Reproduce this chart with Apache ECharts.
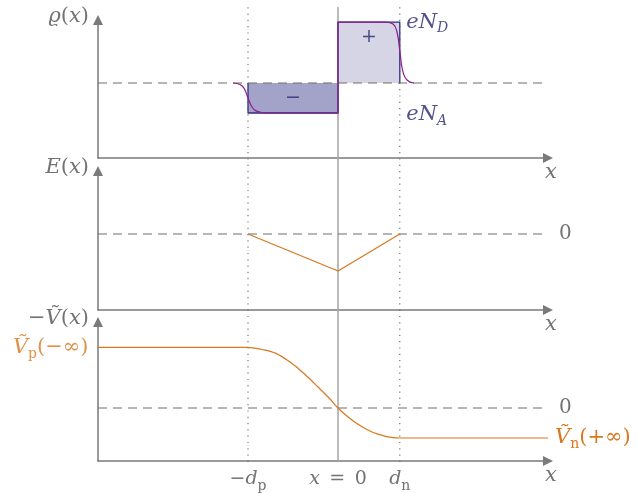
<!DOCTYPE html>
<html><head><meta charset="utf-8">
<script src="https://cdn.jsdelivr.net/npm/echarts@6/dist/echarts.min.js"></script>
<style>html,body{margin:0;padding:0;background:#fff}#c{width:638px;height:493px}</style>
</head><body><div id="c"></div>
<script>
// ---------- data ----------
const xMin = -4, xMax = 3.5;
const dp = 1.5;     // -d_p position
const dn = 1.03;    // d_n position
const NA = 1.0;     // eN_A level (negative block depth)
const ND = 2.03;    // eN_D level (positive block height)
const rhoNeg = [[-dp, 0], [-dp, -NA], [0, -NA], [0, 0]];
const rhoPos = [[0, 0], [0, ND], [dn, ND], [dn, 0]];
const rhoRealLeft = [[-1.75, 0], [-1.633, -0.05], [-1.567, -0.17], [-1.5, -0.5], [-1.433, -0.8], [-1.367, -0.93], [-1.25, -0.99], [-1.133, -1]];
const rhoRealMid = [[-1.133, -1], [0, -1], [0, 2.03], [0.8, 2.03]];
const rhoRealRight = [[0.8, 2.03], [0.917, 1.97], [0.983, 1.7], [1.033, 1.02], [1.083, 0.37], [1.15, 0.1], [1.267, 0]];
const efield = [[-dp, 0], [0, -1.0], [dn, 0]];
const Vp = 2.02, Vn = -1.0;
const potentialCurve = [[-1.5, 2.02], [-1.267, 1.95], [-1.033, 1.82], [-0.8, 1.53], [-0.567, 1.15], [-0.333, 0.70], [-0.133, 0.30], [0, 0],
  [0.133, -0.243], [0.255, -0.433], [0.4, -0.623], [0.533, -0.767], [0.667, -0.873], [0.81, -0.953], [0.917, -0.987], [1.03, -1.0]];
const tickValues = [-dp, 0, dn];
const tickLabels = ['{n|\u2212}{i|d}{s|p}', '{i|x}{n|\u2002=\u20020}', '{i|d}{s|n}'];
const rhoLabel = '{i|\u03F1}{n|(}{i|x}{n|)}';
const eLabel = '{i|E}{n|(}{i|x}{n|)}';
const vLabel = '{n|\u2212}{i|\u1E7C}{n|(}{i|x}{n|)}';
const vpLabel = '{i|\u1E7C}{s|p}{n|(\u2212\u221E)}';
const vnLabel = '{i|\u1E7C}{s|n}{n|(+\u221E)}';
const ndLabel = '{i|eN}{si|D}';
const naLabel = '{i|eN}{si|A}';

// ---------- styles ----------
const F = '"DejaVu Serif", "Liberation Serif", serif';
const GRAY = '#737373', AXIS = '#7a7a7a', ORANGE = '#d9771a', PURPLE = '#8c1f8c', NAVY = '#2e2e7e', NAVYTXT = '#27276f';
function rich(color, big) {
  const fs = big || 19;
  return {
    i: {fontFamily: F, fontStyle: 'italic', fontSize: fs, color, lineHeight: 26, verticalAlign: 'middle'},
    n: {fontFamily: F, fontSize: fs, color, lineHeight: 26, verticalAlign: 'middle'},
    s: {fontFamily: F, fontSize: 14, color, lineHeight: 27, verticalAlign: 'bottom'},
    si: {fontFamily: F, fontStyle: 'italic', fontSize: 14, color, lineHeight: 27, verticalAlign: 'bottom'}
  };
}
const grids = [
  {left: 98, top: 20, width: 450, height: 138},
  {left: 98, top: 171, width: 450, height: 139},
  {left: 98, top: 322, width: 450, height: 139},
  {left: 98, top: 7, width: 450, height: 455}
];
const yRanges = [[-2.5, 2.1], [-2.054, 1.703], [-1.767, 2.867], [0, 1]];
const yNames = [rhoLabel, eLabel, vLabel];
const axisLine = {show: true, onZero: false, symbol: ['none', 'triangle'], symbolSize: [10, 10], lineStyle: {color: AXIS, width: 1.5}};

const xAxis = grids.map((g, k) => ({
  type: 'value', gridIndex: k, min: xMin, max: xMax, show: k < 3,
  axisLine, axisTick: {show: false}, splitLine: {show: false},
  axisLabel: k === 2 ? {
    show: true, customValues: tickValues, margin: 5, rich: rich(GRAY),
    formatter: (v) => { let b = 0; tickValues.forEach((t, j) => { if (Math.abs(t - v) < Math.abs(tickValues[b] - v)) b = j; }); return tickLabels[b]; }
  } : {show: false},
  name: k < 3 ? '{i|x}' : '', nameLocation: 'end', nameGap: 3,
  nameTextStyle: {align: 'center', verticalAlign: 'top', padding: [2, 0, 0, 0], rich: rich(GRAY, 21)}
}));
const yAxis = grids.map((g, k) => ({
  type: 'value', gridIndex: k, min: yRanges[k][0], max: yRanges[k][1], show: k < 3,
  axisLine, axisTick: {show: false}, splitLine: {show: false}, axisLabel: {show: false},
  name: k < 3 ? yNames[k] : '', nameLocation: 'end', nameGap: 3,
  nameTextStyle: {align: 'right', verticalAlign: 'middle', padding: [0, 9, 0, 0], rich: rich(GRAY, 21)}
}));

const noSym = {type: 'line', showSymbol: false, symbol: 'none', silent: true, animation: false};
const DASH = {color: '#6f6f6f', width: 1.2, type: [9, 6]};
const series = [];
// vertical guide lines through all panels
series.push(Object.assign({}, noSym, {xAxisIndex: 3, yAxisIndex: 3, z: 1, data: [[0, 0], [0, 1]], lineStyle: {color: '#a4a4a4', width: 1.5}}));
series.push(Object.assign({}, noSym, {xAxisIndex: 3, yAxisIndex: 3, z: 1, data: [[-dp, 0], [-dp, 1]], lineStyle: {color: '#666', width: 1.1, type: [1.2, 5.1]}}));
series.push(Object.assign({}, noSym, {xAxisIndex: 3, yAxisIndex: 3, z: 1, data: [[dn, 0], [dn, 1]], lineStyle: {color: '#666', width: 1.1, type: [1.2, 5.1]}}));
// panel 1: charge density
series.push(Object.assign({}, noSym, {xAxisIndex: 0, yAxisIndex: 0, z: 2, data: rhoNeg, lineStyle: {color: NAVY, width: 1.3}, areaStyle: {color: '#a3a3c9', opacity: 1}}));
series.push(Object.assign({}, noSym, {xAxisIndex: 0, yAxisIndex: 0, z: 2, data: rhoPos, lineStyle: {color: NAVY, width: 1.3}, areaStyle: {color: '#d5d5e6', opacity: 1}}));
series.push(Object.assign({}, noSym, {xAxisIndex: 0, yAxisIndex: 0, z: 3, data: [[xMin, 0], [xMax, 0]], lineStyle: DASH}));
series.push(Object.assign({}, noSym, {xAxisIndex: 0, yAxisIndex: 0, z: 4, smooth: true, data: rhoRealLeft, lineStyle: {color: PURPLE, width: 1.2}}));
series.push(Object.assign({}, noSym, {xAxisIndex: 0, yAxisIndex: 0, z: 4, data: rhoRealMid, lineStyle: {color: PURPLE, width: 1.2}}));
series.push(Object.assign({}, noSym, {xAxisIndex: 0, yAxisIndex: 0, z: 4, smooth: true, data: rhoRealRight, lineStyle: {color: PURPLE, width: 1.2}}));
series.push({
  type: 'scatter', xAxisIndex: 0, yAxisIndex: 0, z: 5, symbolSize: 1, itemStyle: {color: 'rgba(0,0,0,0)'}, silent: true, animation: false,
  data: [
    {value: [dn / 2, ND - 0.5], label: {show: true, position: 'inside', formatter: '{n|+}', rich: rich(NAVYTXT)}},
    {value: [-dp / 2, -NA / 2], label: {show: true, position: 'inside', formatter: '{n|\u2212}', rich: rich(NAVYTXT)}},
    {value: [dn, ND], label: {show: true, position: 'right', distance: 6, formatter: ndLabel, rich: rich(NAVYTXT, 21)}},
    {value: [dn, -NA], label: {show: true, position: 'right', distance: 6, offset: [0, 2], formatter: naLabel, rich: rich(NAVYTXT, 21)}}
  ]
});
// panel 2: electric field
series.push(Object.assign({}, noSym, {xAxisIndex: 1, yAxisIndex: 1, z: 3, data: [[xMin, 0], [xMax, 0]], lineStyle: DASH,
  endLabel: {show: true, distance: 11, formatter: '{n|0}', rich: rich(GRAY, 20)}}));
series.push(Object.assign({}, noSym, {xAxisIndex: 1, yAxisIndex: 1, z: 4, data: efield, lineStyle: {color: ORANGE, width: 1.2}}));
// panel 3: potential
series.push(Object.assign({}, noSym, {xAxisIndex: 2, yAxisIndex: 2, z: 3, data: [[xMin, 0], [xMax, 0]], lineStyle: DASH,
  endLabel: {show: true, distance: 11, formatter: '{n|0}', rich: rich(GRAY, 20)}}));
series.push(Object.assign({}, noSym, {xAxisIndex: 2, yAxisIndex: 2, z: 4, data: [[xMin, Vp], [-dp, Vp]], lineStyle: {color: ORANGE, width: 1.2}}));
series.push(Object.assign({}, noSym, {xAxisIndex: 2, yAxisIndex: 2, z: 4, smooth: 0.35, data: potentialCurve, lineStyle: {color: ORANGE, width: 1.2}}));
series.push(Object.assign({}, noSym, {xAxisIndex: 2, yAxisIndex: 2, z: 4, data: [[dn, Vn], [xMax, Vn]], lineStyle: {color: ORANGE, width: 1.2},
  endLabel: {show: true, distance: 7, formatter: vnLabel, rich: rich(ORANGE, 21)}}));
series.push({
  type: 'scatter', xAxisIndex: 2, yAxisIndex: 2, z: 5, symbolSize: 1, itemStyle: {color: 'rgba(0,0,0,0)'}, silent: true, animation: false,
  data: [{value: [xMin, Vp], label: {show: true, position: 'left', distance: 9, formatter: vpLabel, rich: rich(ORANGE, 21)}}]
});

const chart = echarts.init(document.getElementById('c'), null, {renderer: 'canvas'});
chart.setOption({animation: false, backgroundColor: '#fff', grid: grids, xAxis, yAxis, series});
</script></body></html>
